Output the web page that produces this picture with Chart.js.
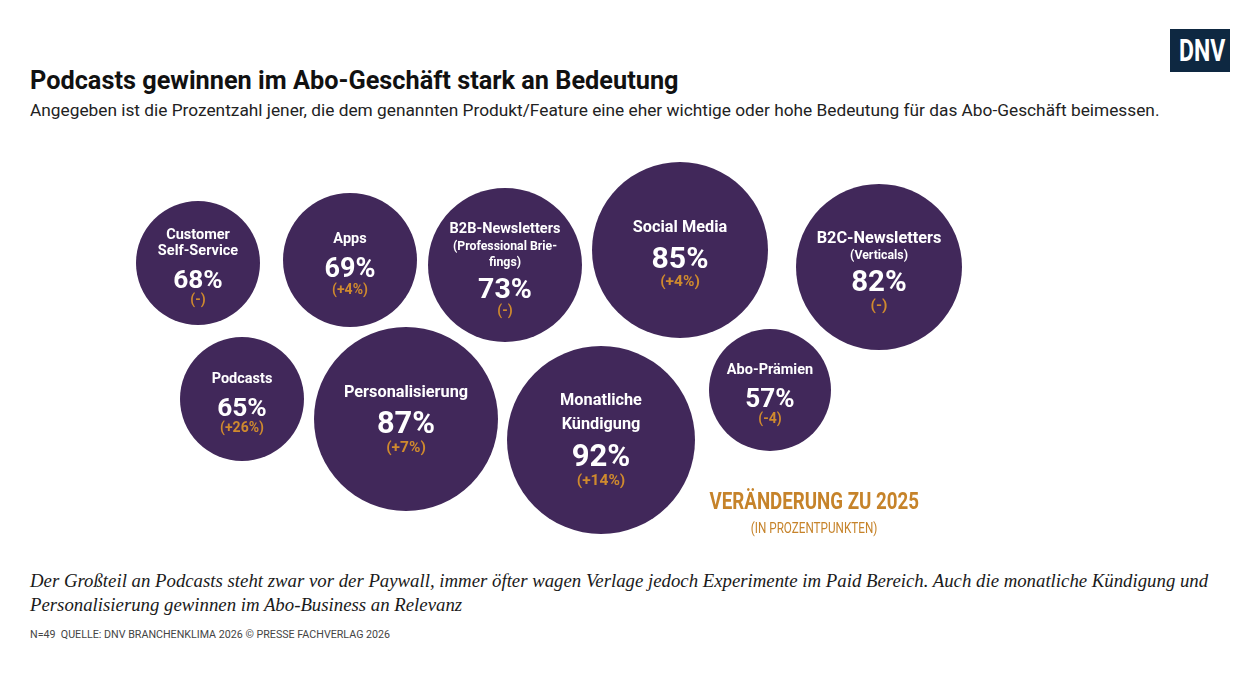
<!DOCTYPE html>
<html lang="de">
<head>
  <meta charset="UTF-8" />
  <title>Podcasts gewinnen im Abo-Geschäft stark an Bedeutung</title>
  <script src="https://cdn.jsdelivr.net/npm/chart.js"></script>
  <style>
    body {
      margin: 0;
      width: 1260px;
      height: 680px;
      position: relative;
      background: #ffffff;
      font-family: Roboto, 'Noto Sans', sans-serif;
      color: #1a1a1a;
      overflow: hidden;
    }
    .narrow {
      display: inline-block;
      white-space: nowrap;
      transform-origin: center center;
    }
    #logo {
      position: absolute;
      left: 1170px;
      top: 29px;
      width: 60px;
      height: 43px;
      background: #0e2841;
      color: #fff;
      font: bold 32px Roboto, sans-serif;
      line-height: 43px;
      text-align: center;
    }
    #logo .narrow { transform: scaleX(0.72); }
    h1 {
      position: absolute;
      left: 30px;
      top: 66px;
      margin: 0;
      font-size: 25.3px;
      font-weight: 700;
      color: #111;
      white-space: nowrap;
    }
    #subtitle {
      position: absolute;
      left: 30px;
      top: 100px;
      font-size: 17.3px;
      color: #222;
      white-space: nowrap;
    }
    #chart-box {
      position: absolute;
      left: 0;
      top: 140px;
      width: 1260px;
      height: 420px;
    }
    #legend-note {
      position: absolute;
      left: 664px;
      top: 486px;
      width: 300px;
      text-align: center;
      color: #c6832a;
    }
    #legend-note .big { font-size: 24px; font-weight: 700; line-height: 30px; }
    #legend-note .big .narrow { transform: scaleX(0.78); }
    #legend-note .small { font-size: 15px; line-height: 20px; margin-top: 2px; }
    #legend-note .small .narrow { transform: scaleX(0.78); }
    #comment {
      position: absolute;
      left: 30px;
      top: 569px;
      width: 1220px;
      font-family: 'Liberation Serif', 'DejaVu Serif', serif;
      font-style: italic;
      font-size: 18.8px;
      line-height: 24px;
      color: #1a1a1a;
    }
    #source {
      position: absolute;
      left: 30px;
      top: 627px;
      font-size: 11.5px;
      color: #444;
      white-space: nowrap;
      transform: scaleX(0.93);
      transform-origin: left center;
    }
  </style>
</head>
<body>
  <div id="logo"><span class="narrow">DNV</span></div>
  <h1>Podcasts gewinnen im Abo-Geschäft stark an Bedeutung</h1>
  <div id="subtitle">Angegeben ist die Prozentzahl jener, die dem genannten Produkt/Feature eine eher wichtige oder hohe Bedeutung für das Abo-Geschäft beimessen.</div>

  <div id="chart-box"><canvas id="myChart"></canvas></div>

  <div id="legend-note">
    <div class="big"><span class="narrow">VERÄNDERUNG ZU 2025</span></div>
    <div class="small"><span class="narrow">(IN PROZENTPUNKTEN)</span></div>
  </div>

  <div id="comment">Der Großteil an Podcasts steht zwar vor der Paywall, immer öfter wagen Verlage jedoch Experimente im Paid Bereich. Auch die monatliche Kündigung und Personalisierung gewinnen im Abo-Business an Relevanz</div>
  <div id="source">N=49&nbsp; QUELLE: DNV BRANCHENKLIMA 2026 © PRESSE FACHVERLAG 2026</div>

  <script>
    // Daten
    const names = [
      ['Customer', 'Self-Service'],
      ['Apps'],
      ['B2B-Newsletters'],
      ['Social Media'],
      ['B2C-Newsletters'],
      ['Podcasts'],
      ['Personalisierung'],
      ['Monatliche', 'Kündigung'],
      ['Abo-Prämien']
    ];
    const notes = [[], [], ['(Professional Brie-', 'fings)'], [], ['(Verticals)'], [], [], [], []];
    const shares = [68, 69, 73, 85, 82, 65, 87, 92, 57];
    const changes = ['(-)', '(+4%)', '(-)', '(+4%)', '(-)', '(+26%)', '(+7%)', '(+14%)', '(-4)'];

    // Anordnung der Blasen (Layout)
    const posX = [198, 350, 505, 680, 879, 242, 406, 601, 770];
    const posY = [263, 260, 265, 250, 267, 399, 419, 440, 390];
    const radius = [62, 67, 77, 88, 83, 62, 92, 94, 61];

    const purple = '#41285a';
    const orange = '#cf8a2e';

    // Text in den Blasen, Abstände zwischen den Zeilenmitten
    const bubbleLabels = {
      id: 'bubbleLabels',
      afterDatasetsDraw(chart) {
        const c = chart.ctx;
        const meta = chart.getDatasetMeta(0);
        meta.data.forEach((el, i) => {
          const r = radius[i];
          const big = r > 80;
          const nameSize = big ? 16.3 : 14.5;
          const nameLH = r > 90 ? 24 : 16;
          const pctSize = 17 + r * 0.15;
          const chgSize = big ? 15.5 : 14;
          const rows = [];
          names[i].forEach((t, k) => rows.push({ t, size: nameSize, color: '#fff', gap: k === 0 ? 0 : nameLH }));
          notes[i].forEach((t, k) => rows.push({ t, size: 12.3, color: '#fff', gap: k === 0 ? 18 : 16 }));
          rows.push({ t: shares[i] + '%', size: pctSize, color: '#fff', gap: notes[i].length ? 26 : 24 + r * 0.08 });
          rows.push({ t: changes[i], size: chgSize, color: orange, gap: 14 + r * 0.12, paren: true });

          let total = 0;
          rows.forEach(row => total += row.gap);
          let y = el.y - total / 2 + (r > 90 ? 0 : 4);
          c.save();
          c.textAlign = 'center';
          c.textBaseline = 'alphabetic';
          rows.forEach(row => {
            y += row.gap;
            c.font = 'bold ' + row.size + 'px Roboto, sans-serif';
            c.fillStyle = row.color;
            c.fillText(row.t, el.x, y + row.size * (row.paren ? 0.3 : 0.355));
          });
          c.restore();
        });
      }
    };

    new Chart(document.getElementById('myChart'), {
      type: 'bubble',
      data: {
        datasets: [{
          label: 'Bedeutung',
          data: shares.map((v, i) => ({ x: posX[i], y: posY[i], r: radius[i], v })),
          backgroundColor: purple,
          borderWidth: 0,
          hoverBackgroundColor: purple,
          hoverBorderWidth: 0,
          clip: false
        }]
      },
      options: {
        responsive: true,
        maintainAspectRatio: false,
        animation: false,
        layout: { padding: 0, autoPadding: false },
        scales: {
          x: { display: false, min: 0, max: 1260 },
          y: { display: false, min: 140, max: 560, reverse: true }
        },
        plugins: {
          legend: { display: false },
          tooltip: {
            callbacks: {
              label: ctx => names[ctx.dataIndex].join(' ') + ': ' + shares[ctx.dataIndex] + '% ' + changes[ctx.dataIndex]
            }
          }
        }
      },
      plugins: [bubbleLabels]
    });
  </script>
</body>
</html>
